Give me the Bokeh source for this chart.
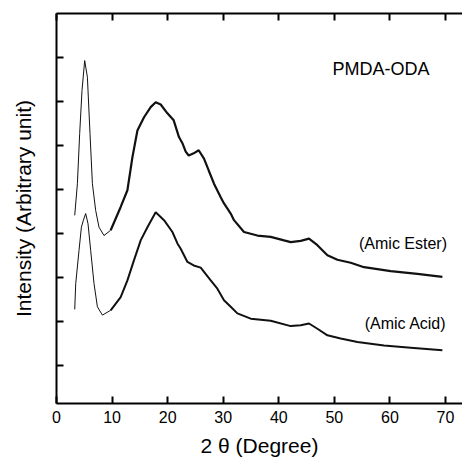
from bokeh.plotting import figure
from bokeh.models import Range1d, LinearAxis, FixedTicker, Label
from bokeh.embed import file_html
from bokeh.resources import INLINE

# ---- data ----
x_ester = [3.28, 3.76, 4.17, 4.59, 5.07, 5.56, 6.03, 6.46, 7.05, 7.65, 8.55, 9.75,
           11.55, 12.76, 13.66, 14.56, 15.75, 16.95, 17.85, 18.75, 19.96, 21.09,
           22.04, 22.66, 23.25, 23.79, 24.69, 25.59, 26.54, 27.39, 28.34, 29.55,
           30.14, 31.35, 31.94, 33.74, 36.15, 38.55, 40.94, 42.15, 43.95, 45.44,
           46.95, 48.75, 50.55, 52.94, 55.34, 60.14, 64.94, 69.44]
y_ester = [3.41, 4.13, 5.27, 6.25, 6.93, 6.55, 5.27, 4.13, 3.52, 3.14, 2.95, 3.07,
           3.60, 3.98, 4.73, 5.34, 5.64, 5.87, 5.98, 5.93, 5.73, 5.57,
           5.19, 5.05, 4.86, 4.77, 4.82, 4.89, 4.70, 4.43, 4.13, 3.82,
           3.68, 3.45, 3.30, 3.03, 2.95, 2.92, 2.84, 2.80, 2.83, 2.88,
           2.73, 2.50, 2.40, 2.33, 2.23, 2.14, 2.08, 2.01]

x_acid = [3.28, 3.46, 4.05, 4.48, 4.84, 5.25, 5.67, 6.15, 6.75, 7.36, 8.26, 9.75,
          11.55, 12.76, 13.95, 15.15, 16.36, 17.85, 19.35, 20.86, 21.76, 22.35,
          23.56, 24.69, 25.95, 27.75, 28.95, 30.14, 31.35, 32.55, 34.95, 38.55,
          42.15, 43.95, 45.44, 46.95, 48.75, 51.14, 54.15, 58.94, 63.74, 69.44]
y_acid = [1.27, 1.86, 2.61, 3.14, 3.30, 3.45, 3.22, 2.61, 1.86, 1.33, 1.14, 1.25,
          1.55, 1.93, 2.39, 2.84, 3.14, 3.48, 3.30, 3.03, 2.77, 2.65,
          2.35, 2.27, 2.22, 1.93, 1.74, 1.48, 1.33, 1.18, 1.06, 1.01,
          0.89, 0.91, 0.95, 0.83, 0.68, 0.61, 0.53, 0.45, 0.40, 0.34]

x_ticks = [0, 10, 20, 30, 40, 50, 60, 70]
y_ticks = [0, 1, 2, 3, 4, 5, 6, 7]

title_text = "PMDA-ODA"
label_ester = "(Amic Ester)"
label_acid = "(Amic Acid)"
x_title = "2 θ (Degree)"
y_title = "Intensity (Arbitrary unit)"

# ---- figure ----
SANS = "Liberation Sans"
p = figure(width=462, height=461, output_backend="svg", toolbar_location=None,
           x_range=Range1d(0, 73.06), y_range=Range1d(-0.87, 8.0),
           min_border_left=56, min_border_right=0, min_border_top=13,
           min_border_bottom=58)
p.outline_line_color = None
p.xgrid.visible = False
p.ygrid.visible = False
p.background_fill_color = "white"
p.border_fill_color = "white"


def style_axis(ax, show_labels):
    ax.axis_line_width = 2
    ax.axis_line_color = "black"
    ax.major_tick_in = 7
    ax.major_tick_out = 0
    ax.major_tick_line_width = 2
    ax.major_tick_line_color = "black"
    ax.minor_tick_in = 0
    ax.minor_tick_out = 0
    ax.minor_tick_line_color = None
    ax.major_label_text_font = SANS
    ax.axis_label_text_font = SANS
    ax.axis_label_text_font_style = "normal"
    ax.axis_label_text_color = "black"
    ax.axis_label_text_font_size = "21px"
    if show_labels:
        ax.major_label_text_color = "black"
        ax.major_label_text_font_size = "16px"
        ax.major_label_standoff = 7
    else:
        ax.major_label_text_color = None
        ax.major_label_text_font_size = "1px"
        ax.major_label_standoff = 0


p.xaxis.ticker = FixedTicker(ticks=x_ticks)
style_axis(p.xaxis[0], True)
p.xaxis.axis_label = x_title
p.xaxis.axis_label_standoff = 8

p.yaxis.ticker = FixedTicker(ticks=y_ticks)
style_axis(p.yaxis[0], False)
p.yaxis.axis_label = y_title
p.yaxis.axis_label_standoff = 22

top = LinearAxis(ticker=FixedTicker(ticks=x_ticks))
style_axis(top, False)
p.add_layout(top, "above")

# ---- curves ----
THIN = 12  # number of points drawn with the thin pen (sharp low-angle peak)
p.line(x_ester[:THIN], y_ester[:THIN], line_color="#111111", line_width=1.0)
p.line(x_ester[THIN - 1:], y_ester[THIN - 1:], line_color="#111111", line_width=2.2)
p.line(x_acid[:THIN], y_acid[:THIN], line_color="#111111", line_width=1.0)
p.line(x_acid[THIN - 1:], y_acid[THIN - 1:], line_color="#111111", line_width=2.0)

# ---- texts ----
p.add_layout(Label(x=49.65, y=6.74, text=title_text, text_font=SANS,
                   text_font_size="18px", text_baseline="alphabetic", text_color="black"))
p.add_layout(Label(x=54.44, y=2.77, text=label_ester, text_font=SANS,
                   text_font_size="16px", text_baseline="alphabetic", text_color="black"))
p.add_layout(Label(x=55.46, y=0.95, text=label_acid, text_font=SANS,
                   text_font_size="16px", text_baseline="alphabetic", text_color="black"))

open("out.html", "w").write(file_html(p, INLINE))
